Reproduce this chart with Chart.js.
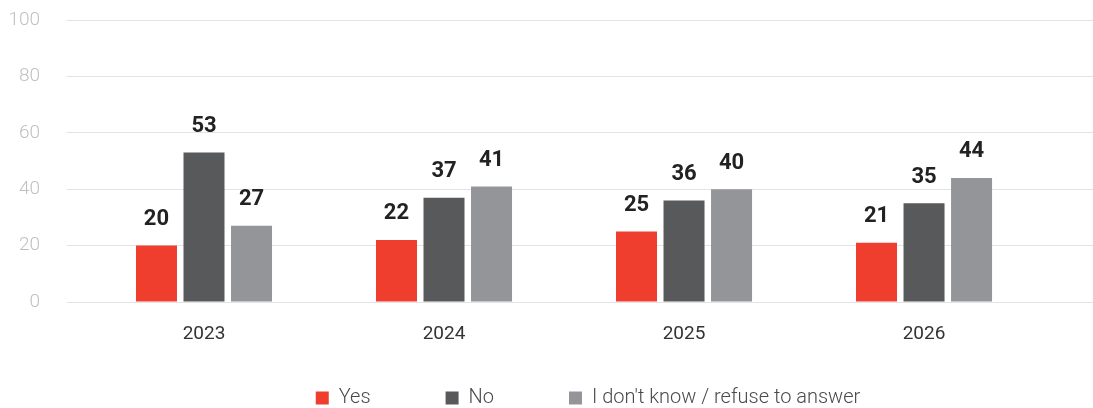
<!DOCTYPE html>
<html>
<head>
<meta charset="utf-8">
<script src="https://cdn.jsdelivr.net/npm/chart.js@4/dist/chart.umd.min.js"></script>
<style>
  html, body { margin: 0; padding: 0; background: #ffffff; }
  #wrap { width: 1093px; height: 408px; position: relative; }
</style>
</head>
<body>
<div id="wrap"><canvas id="c" width="1093" height="408"></canvas></div>
<script>
const categories = ['2023', '2024', '2025', '2026'];
const seriesNames = ['Yes', 'No', "I don't know / refuse to answer"];
const yesValues = [20, 22, 25, 21];
const noValues = [53, 37, 36, 35];
const dontKnowValues = [27, 41, 40, 44];
const yTicks = [0, 20, 40, 60, 80, 100];
const colors = ['#EF3E2E', '#58595B', '#939598'];

const toPoints = arr => arr.map((v, i) => ({ x: i, y: v }));

const valueLabels = {
  id: 'valueLabels',
  afterDatasetsDraw(chart) {
    const ctx = chart.ctx;
    ctx.save();
    ctx.font = 'bold 22px Roboto';
    ctx.fillStyle = '#222222';
    ctx.textAlign = 'center';
    ctx.textBaseline = 'middle';
    chart.data.datasets.forEach((ds, di) => {
      const meta = chart.getDatasetMeta(di);
      meta.data.forEach((el, i) => {
        ctx.fillText(String(ds.data[i].y), el.x, el.y - 26);
      });
    });
    ctx.restore();
  }
};

// legend: wide horizontal spacing without reserving the same space vertically
const legendPlacement = {
  id: 'legendPlacement',
  beforeUpdate(chart) {
    const lg = chart.legend;
    if (lg && !lg._fitPatched) {
      const orig = lg.fit;
      lg.fit = function () {
        orig.call(this);
        this.height = 30;
      };
      lg._fitPatched = true;
    }
  },
  afterLayout(chart) {
    const lg = chart.legend;
    if (!lg) return;
    lg.top = 313;
    lg.bottom = chart.height;
    lg.height = lg.bottom - lg.top;
    lg.left += 8;
    lg.right += 8;
  }
};

new Chart(document.getElementById('c'), {
  type: 'bar',
  data: {
    datasets: [
      { label: seriesNames[0], data: toPoints(yesValues), backgroundColor: colors[0] },
      { label: seriesNames[1], data: toPoints(noValues), backgroundColor: colors[1] },
      { label: seriesNames[2], data: toPoints(dontKnowValues), backgroundColor: colors[2] }
    ]
  },
  options: {
    responsive: false,
    animation: false,
    layout: { padding: { top: 20, right: 0, left: 0, bottom: 0 } },
    datasets: { bar: { categoryPercentage: 0.594, barPercentage: 0.863 } },
    scales: {
      x: {
        type: 'linear',
        offset: false,
        min: -0.5708,
        max: 3.704,
        grid: { display: false, offset: false },
        border: { display: false },
        afterBuildTicks: axis => { axis.ticks = categories.map((c, i) => ({ value: i })); },
        afterFit: axis => { axis.height = 76; axis.paddingLeft = 0; axis.paddingRight = 0; },
        ticks: {
          color: '#333333',
          font: { family: 'Roboto', size: 19 },
          padding: 13,
          autoSkip: false,
          maxRotation: 0,
          callback: v => categories[v]
        }
      },
      y: {
        min: 0,
        max: 100,
        afterBuildTicks: axis => { axis.ticks = yTicks.map(v => ({ value: v })); },
        afterFit: axis => { axis.width = 67; axis.paddingTop = 0; axis.paddingBottom = 0; },
        grid: { color: '#e3e3e3', lineWidth: 1, drawTicks: false },
        border: { display: false },
        ticks: {
          color: '#c0c0c0',
          font: { family: 'Roboto', size: 19, weight: '300' },
          padding: 27
        }
      }
    },
    plugins: {
      legend: {
        position: 'bottom',
        fullSize: false,
        labels: {
          boxWidth: 13,
          boxHeight: 13,
          padding: 75,
          color: '#4a4a4a',
          font: { family: 'Roboto', size: 20, weight: '300' }
        }
      },
      tooltip: { enabled: false }
    }
  },
  plugins: [legendPlacement, valueLabels]
});
</script>
</body>
</html>
